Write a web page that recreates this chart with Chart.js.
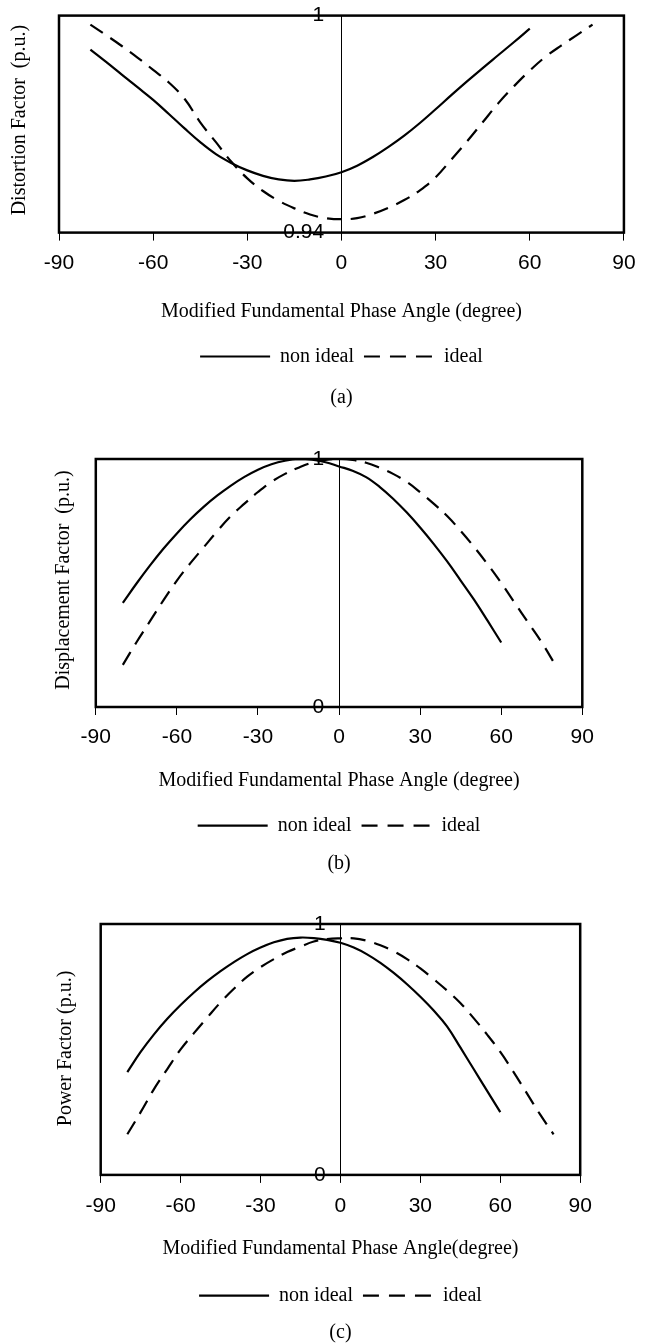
<!DOCTYPE html>
<html>
<head>
<meta charset="utf-8">
<script src="https://cdn.jsdelivr.net/npm/chart.js@4.4.1/dist/chart.umd.min.js"></script>
<style>
  html, body { margin: 0; padding: 0; background: #fff; }
  body { width: 646px; height: 1344px; position: relative; overflow: hidden; }
  canvas { position: absolute; left: 0; }
</style>
</head>
<body>
<canvas id="chartA" width="646" height="412" style="top:0px"></canvas>
<canvas id="chartB" width="646" height="448" style="top:430px"></canvas>
<canvas id="chartC" width="646" height="467" style="top:880px"></canvas>
<script>
// Angles (degree) where each curve has a point
const anglesNonIdeal = [-80, -75, -70, -65, -60, -55, -50, -45, -40, -35, -30, -25, -20, -15, -10, -5, 0,
  5, 10, 15, 20, 25, 30, 35, 40, 45, 50, 55, 60];
const anglesIdeal = [-80, -75, -70, -65, -60, -55, -50, -45, -40, -35, -30, -25, -20, -15, -10, -5, 0,
  5, 10, 15, 20, 25, 30, 35, 40, 45, 50, 55, 60, 65, 70, 75, 80];

// (a) Distortion factor
const distortionNonIdeal = [0.9906, 0.9872, 0.9837, 0.9802, 0.9767, 0.9728, 0.9688, 0.9650, 0.9617, 0.9592,
  0.9572, 0.9557, 0.9547, 0.9543, 0.9547, 0.9555, 0.9567, 0.9585, 0.9609, 0.9637, 0.9668, 0.9703, 0.9741,
  0.9780, 0.9818, 0.9855, 0.9891, 0.9927, 0.9964];
const distortionIdeal = [0.9975, 0.9946, 0.9916, 0.9884, 0.9850, 0.9815, 0.9770, 0.9705, 0.9650, 0.9595,
  0.9550, 0.9515, 0.9488, 0.9467, 0.9450, 0.9440, 0.9437, 0.9440, 0.9452, 0.9469, 0.9490, 0.9517, 0.9553,
  0.9602, 0.9652, 0.9705, 0.9758, 0.9805, 0.9848, 0.9886, 0.9917, 0.9946, 0.9975];

// (b) Displacement factor
const displacementNonIdeal = [0.42, 0.497, 0.57, 0.638, 0.70, 0.757, 0.808, 0.853, 0.893, 0.928, 0.957, 0.979,
  0.993, 1.0, 0.997, 0.987, 0.97, 0.953, 0.927, 0.888, 0.84, 0.785, 0.724, 0.658, 0.587, 0.51, 0.432, 0.347, 0.26];
const displacementIdeal = [0.17, 0.26, 0.345, 0.43, 0.51, 0.58, 0.645, 0.71, 0.77, 0.82, 0.867, 0.908, 0.94,
  0.965, 0.985, 0.996, 1.0, 0.996, 0.985, 0.965, 0.94, 0.908, 0.866, 0.82, 0.77, 0.71, 0.645, 0.575, 0.50,
  0.42, 0.34, 0.26, 0.17];

// (c) Power factor
const powerNonIdeal = [0.41, 0.49, 0.56, 0.622, 0.677, 0.727, 0.772, 0.812, 0.848, 0.88, 0.906, 0.927, 0.941,
  0.946, 0.944, 0.937, 0.925, 0.906, 0.879, 0.845, 0.805, 0.76, 0.71, 0.655, 0.592, 0.508, 0.422, 0.336, 0.25];
const powerIdeal = [0.162, 0.25, 0.342, 0.422, 0.50, 0.565, 0.627, 0.688, 0.742, 0.79, 0.828, 0.86, 0.888,
  0.91, 0.93, 0.94, 0.943, 0.943, 0.933, 0.915, 0.891, 0.86, 0.823, 0.78, 0.735, 0.685, 0.625, 0.56, 0.49,
  0.41, 0.325, 0.24, 0.162];

// Tick labels
const xTicks = [-90, -60, -30, 0, 30, 60, 90];
const yTicksDistortion = [0.94, 1];
const yTicksUnit = [0, 1];

const tickFont = { family: "'Liberation Sans', Arial, sans-serif", size: 21 };
const serifFont = { family: "'Liberation Serif', 'Times New Roman', serif", size: 20, weight: 'normal' };

function toPoints(xs, ys) {
  return xs.map((x, i) => ({ x: x, y: ys[i] }));
}

// Outer box and the rotated y title
const framePlugin = {
  id: 'frame',
  afterDatasetsDraw(chart, args, opts) {
    const ctx = chart.ctx;
    const a = chart.chartArea;
    ctx.save();
    ctx.strokeStyle = '#000';
    ctx.lineWidth = 2.5;
    ctx.strokeRect(a.left, a.top, a.right - a.left, a.bottom - a.top);
    ctx.translate(opts.titleX, (a.top + a.bottom) / 2 + opts.titleShift);
    ctx.rotate(-Math.PI / 2);
    ctx.font = "20px 'Liberation Serif', 'Times New Roman', serif";
    ctx.fillStyle = '#000';
    ctx.textAlign = 'center';
    ctx.textBaseline = 'middle';
    ctx.fillText(opts.text, 0, 0);
    ctx.restore();
  }
};

// Legend samples: solid line for non ideal, dashed for ideal
function legendLabels(chart) {
  return Chart.defaults.plugins.legend.labels.generateLabels(chart).map(item => {
    item.lineWidth = 2.2;
    item.strokeStyle = '#000';
    item.lineDash = item.datasetIndex === 1 ? [16, 10] : [];
    return item;
  });
}

function buildChart(id, cfg) {
  return new Chart(document.getElementById(id), {
    type: 'line',
    data: {
      datasets: [{
        label: 'non ideal',
        data: toPoints(anglesNonIdeal, cfg.nonIdeal),
        borderColor: '#000',
        backgroundColor: '#000',
        borderWidth: 2.2,
        pointRadius: 0,
        tension: 0.4
      }, {
        label: 'ideal',
        data: toPoints(anglesIdeal, cfg.ideal),
        borderColor: '#000',
        backgroundColor: '#000',
        borderWidth: 2.2,
        borderDash: [15, 9],
        pointRadius: 0,
        tension: 0.4
      }]
    },
    options: {
      responsive: false,
      devicePixelRatio: 1,
      animation: false,
      events: [],
      layout: { padding: { left: cfg.left, right: cfg.right, top: cfg.top, bottom: 0 } },
      scales: {
        x: {
          type: 'linear',
          min: -90,
          max: 90,
          afterBuildTicks: s => { s.ticks = xTicks.map(v => ({ value: v })); },
          ticks: { autoSkip: false, maxRotation: 0, padding: cfg.tickPad, color: '#000', font: tickFont,
            callback: v => String(v) },
          grid: {
            color: c => (c.tick && c.tick.value === 0) ? '#000' : 'rgba(0,0,0,0)',
            tickColor: '#000',
            tickLength: 8,
            lineWidth: 1
          },
          border: { display: false },
          title: { display: true, text: cfg.xTitle, color: '#000', font: serifFont,
            padding: { top: cfg.t1, bottom: cfg.t2 } }
        },
        y: {
          type: 'linear',
          min: cfg.yTicks[0],
          max: cfg.yTicks[cfg.yTicks.length - 1],
          position: { x: -5.5 },
          afterBuildTicks: s => { s.ticks = cfg.yTicks.map(v => ({ value: v })); },
          ticks: { color: '#000', font: tickFont, callback: v => String(v) },
          grid: { display: false },
          border: { display: false }
        }
      },
      plugins: {
        legend: {
          position: 'bottom',
          fullSize: false,
          labels: {
            usePointStyle: true,
            pointStyle: 'line',
            pointStyleWidth: 70,
            padding: 10,
            color: '#000',
            font: serifFont,
            generateLabels: legendLabels
          }
        },
        title: {
          display: true,
          position: 'bottom',
          fullSize: false,
          text: cfg.caption,
          color: '#000',
          font: serifFont,
          padding: { top: cfg.cp, bottom: 2 }
        },
        tooltip: { enabled: false },
        frame: { text: cfg.yTitle, titleX: cfg.titleX, titleShift: cfg.titleShift }
      }
    },
    plugins: [framePlugin]
  });
}

buildChart('chartA', {
  nonIdeal: distortionNonIdeal, ideal: distortionIdeal, yTicks: yTicksDistortion,
  yTitle: 'Distortion Factor  (p.u.)', xTitle: 'Modified Fundamental Phase Angle (degree)', caption: '(a)',
  left: 59, right: 21.3, top: 15.5, tickPad: 10.4, t1: 13.4, t2: 12.5, cp: 9.5, titleX: 20, titleShift: -4
});

buildChart('chartB', {
  nonIdeal: displacementNonIdeal, ideal: displacementIdeal, yTicks: yTicksUnit,
  yTitle: 'Displacement Factor  (p.u.)', xTitle: 'Modified Fundamental Phase Angle (degree)', caption: '(b)',
  left: 95.8, right: 63.7, top: 29, tickPad: 9.4, t1: 9.4, t2: 13.3, cp: 6.3, titleX: 64, titleShift: -3
});

buildChart('chartC', {
  nonIdeal: powerNonIdeal, ideal: powerIdeal, yTicks: yTicksUnit,
  yTitle: 'Power Factor (p.u.)', xTitle: 'Modified Fundamental Phase Angle(degree)', caption: '(c)',
  left: 100.7, right: 65.8, top: 44, tickPad: 10.6, t1: 7.7, t2: 14.7, cp: 5.3, titleX: 66, titleShift: -1
});
</script>
</body>
</html>
